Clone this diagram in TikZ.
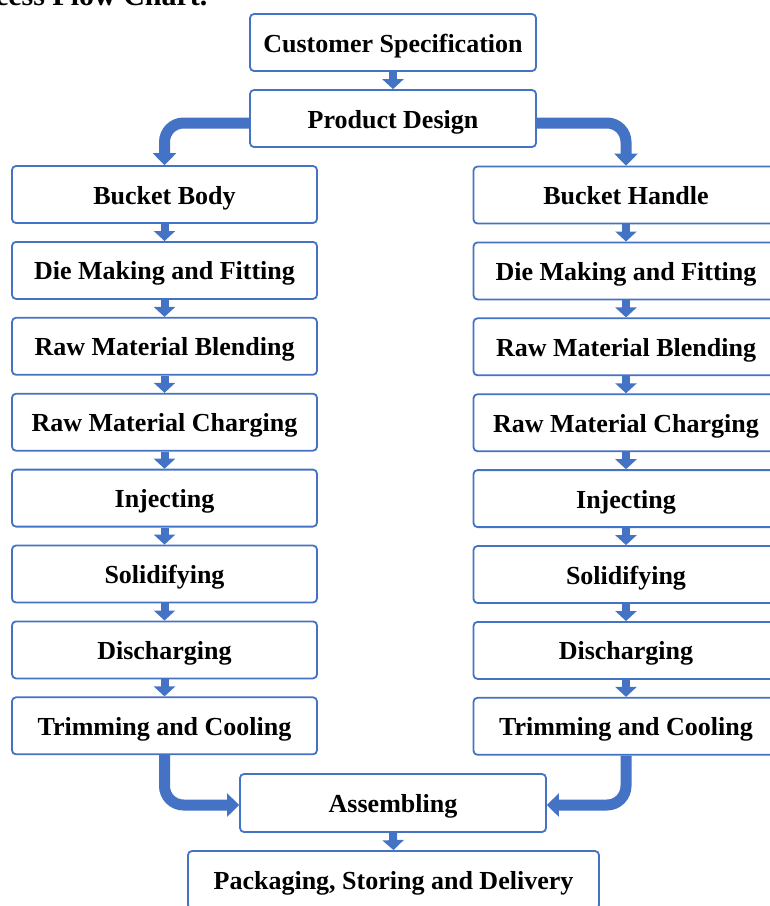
\documentclass[tikz,border=0pt]{standalone}
\usepackage{fontspec}
\setmainfont{Liberation Serif}
\usetikzlibrary{arrows.meta}
\definecolor{bl}{HTML}{4472C4}
\begin{document}
\begin{tikzpicture}[x=1pt,y=-1pt,
  box/.style={draw=bl, line width=1.8pt, rounded corners=4pt, fill=white,
    minimum width=305pt, minimum height=57pt, inner sep=0pt,
    text height=19pt, text depth=0pt,
    font=\fontsize{26}{30}\selectfont\bfseries},
  thinarrow/.style={draw=bl, line width=8pt, -{Triangle[width=21pt,length=10pt]}},
  thickarrow/.style={draw=bl, line width=11pt, rounded corners=19pt, -{Triangle[width=23pt,length=12pt]}},
]
\useasboundingbox (0,0) rectangle (770,906);
\clip (0,0) rectangle (770,906);

\node[anchor=base east, font=\fontsize{30}{34}\selectfont\bfseries] (title) at (211,5) {Process Flow Chart.};

\node[box, minimum width=286pt] (cs) at (393,42.5) {Customer Specification};
\node[box, minimum width=286pt] (pd) at (393,118.5) {Product Design};

\foreach \i/\t in {1/Bucket Body, 2/Die Making and Fitting, 3/Raw Material Blending,
  4/Raw Material Charging, 5/Injecting, 6/Solidifying, 7/Discharging, 8/Trimming and Cooling}{
  \node[box] (L\i) at (164.5,{194.5+75.9*(\i-1)}) {\t};
}
\foreach \i/\t in {1/Bucket Handle, 2/Die Making and Fitting, 3/Raw Material Blending,
  4/Raw Material Charging, 5/Injecting, 6/Solidifying, 7/Discharging, 8/Trimming and Cooling}{
  \node[box] (R\i) at (626,{195+75.9*(\i-1)}) {\t};
}

\node[box, minimum width=306pt, minimum height=58pt] (as) at (393,803) {Assembling};
\node[box, minimum width=411pt, minimum height=58pt] (pk) at (393.5,880) {Packaging, Storing and Delivery};

\draw[thinarrow] (cs.south) -- (pd.north);
\draw[thickarrow] ([yshift=-4.5pt]pd.west) -| (L1.north);
\draw[thickarrow] ([yshift=-4.5pt]pd.east) -| (R1.north);
\foreach \i [evaluate=\i as \j using int(\i+1)] in {1,...,7}{
  \draw[thinarrow] (L\i.south) -- (L\j.north);
  \draw[thinarrow] (R\i.south) -- (R\j.north);
}
\draw[thickarrow] (L8.south) |- ([yshift=-2pt]as.west);
\draw[thickarrow] (R8.south) |- ([yshift=-2pt]as.east);
\draw[thinarrow] (as.south) -- (pk.north);
\end{tikzpicture}
\end{document}
